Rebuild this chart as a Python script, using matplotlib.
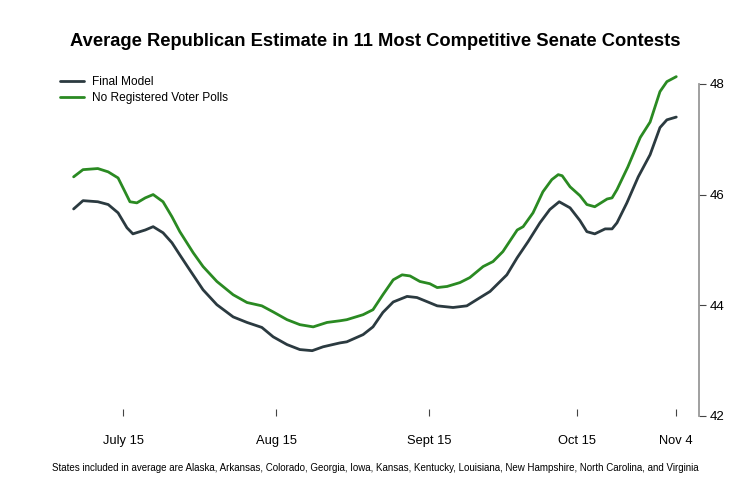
import matplotlib
matplotlib.use("Agg")
import matplotlib.pyplot as plt
import numpy as np

plt.rcParams['font.family'] = ['Liberation Sans', 'DejaVu Sans']

# days counted from July 15
final_days = [-10, -8.1, -5.1, -3.0, -1.0, 0.8, 2.0, 4.5, 6.1, 8.1, 9.9, 11.5, 13.2,
              16.2, 19.0, 22.3, 25.1, 28.1, 30.4, 33.2, 35.8, 38.3, 40.5, 43.9, 45.3,
              48.6, 50.6, 52.6, 54.7, 57.5, 59.5, 61.7, 63.6, 66.8, 69.6, 72.3, 74.3,
              77.7, 79.8, 82.0, 84.4, 86.4, 88.3, 90.5, 92.5, 93.9, 95.5, 97.6, 99.0,
              100.0, 102.0, 104.3, 106.7, 108.7, 110.1, 112.0]
final_vals = [45.74, 45.89, 45.87, 45.82, 45.67, 45.40, 45.29, 45.36, 45.42, 45.31,
              45.13, 44.91, 44.68, 44.28, 44.01, 43.79, 43.69, 43.60, 43.43, 43.29,
              43.20, 43.18, 43.25, 43.32, 43.34, 43.47, 43.61, 43.87, 44.06, 44.16,
              44.14, 44.06, 43.99, 43.96, 43.99, 44.14, 44.25, 44.55, 44.86, 45.15,
              45.49, 45.73, 45.87, 45.76, 45.53, 45.33, 45.29, 45.38, 45.38, 45.49,
              45.85, 46.32, 46.72, 47.21, 47.35, 47.40]

norv_days = [-10, -8.1, -5.1, -3.0, -1.0, 0.4, 1.4, 2.8, 4.5, 6.1, 8.1, 9.9, 11.5,
             14.2, 16.2, 19.0, 22.3, 25.1, 28.1, 30.4, 33.2, 35.8, 38.5, 41.3, 43.9,
             45.3, 48.6, 50.6, 52.6, 54.7, 56.5, 58.1, 60.1, 62.1, 63.6, 65.6, 68.2,
             70.2, 72.9, 74.9, 76.9, 79.8, 81.0, 83.0, 85.0, 86.8, 88.1, 88.9, 90.5,
             92.5, 93.9, 95.5, 98.0, 99.0, 100.0, 102.2, 104.7, 106.7, 108.7, 110.1, 112.0]
norv_vals = [46.32, 46.45, 46.47, 46.41, 46.30, 46.05, 45.87, 45.85, 45.94, 46.00,
             45.87, 45.60, 45.33, 44.95, 44.70, 44.43, 44.19, 44.05, 43.99, 43.88,
             43.74, 43.65, 43.61, 43.69, 43.72, 43.74, 43.83, 43.92, 44.19, 44.46,
             44.55, 44.53, 44.43, 44.39, 44.32, 44.34, 44.41, 44.50, 44.70, 44.79,
             44.97, 45.36, 45.42, 45.67, 46.05, 46.27, 46.36, 46.34, 46.14, 45.98,
             45.82, 45.78, 45.92, 45.94, 46.09, 46.50, 47.03, 47.31, 47.86, 48.04, 48.13]

tick_days = [0, 31, 62, 92, 112]
tick_labels = ["July 15", "Aug 15", "Sept 15", "Oct 15", "Nov 4"]

fig = plt.figure(figsize=(7.5, 5), dpi=100)
ax = fig.add_axes([55/750, 1-416/500, (699-55)/750, 346/500])

ax.plot(final_days, final_vals, color='#2b3a40', lw=2.0, label="Final Model",
        solid_joinstyle='round', solid_capstyle='round')
ax.plot(norv_days, norv_vals, color='#2a8a22', lw=2.0, label="No Registered Voter Polls",
        solid_joinstyle='round', solid_capstyle='round')

ax.set_xlim(-13.77, 116.6)
ax.set_ylim(42, 48.25)

for s in ['top', 'left', 'bottom']:
    ax.spines[s].set_visible(False)
ax.spines['right'].set_bounds(42, 48)
ax.spines['right'].set_color('#999999')
ax.spines['right'].set_linewidth(1.3)

ax.yaxis.tick_right()
ax.set_yticks([42, 44, 46, 48])
ax.tick_params(axis='y', direction='out', length=5, width=0.8, color='#444444',
               labelsize=9.5, pad=3)
ax.set_xticks(tick_days)
ax.set_xticklabels(tick_labels)
ax.tick_params(axis='x', direction='in', length=5, width=0.8, color='#444444',
               labelsize=9.3, pad=14)

fig.legend(loc='upper left', bbox_to_anchor=(60/750, 1-76/500), frameon=False,
           fontsize=8.6, handlelength=2.0, handletextpad=0.7, labelspacing=0.35,
           borderpad=0, borderaxespad=0)

fig.text(0.5, 1-42/500, "Average Republican Estimate in 11 Most Competitive Senate Contests",
         ha='center', va='center', fontsize=13.2, fontweight='bold')
fig.text(0.5, 1-468/500,
         "States included in average are Alaska, Arkansas, Colorado, Georgia, Iowa, Kansas, "
         "Kentucky, Louisiana, New Hampshire, North Carolina, and Virginia",
         ha='center', va='center', fontsize=7.0)

plt.savefig("out.png", dpi=100)
